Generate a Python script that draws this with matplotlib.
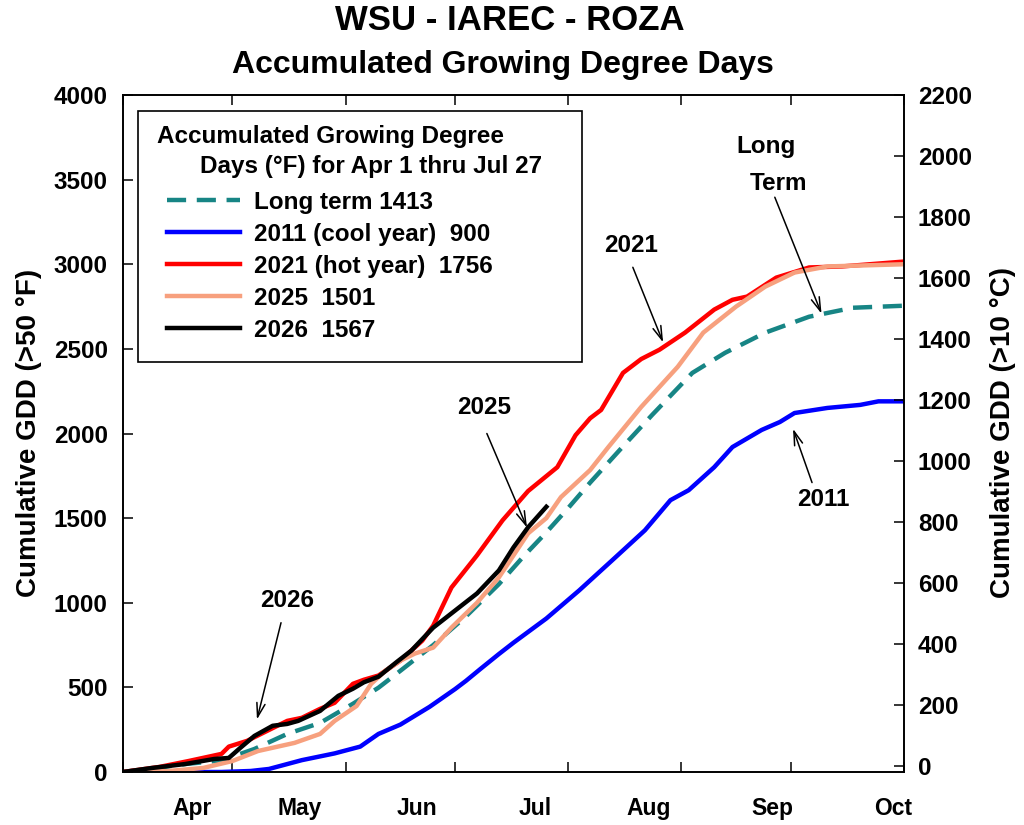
import numpy as np
import matplotlib
matplotlib.use("Agg")
import matplotlib.pyplot as plt
from matplotlib.patches import Rectangle

# x values are days since Apr 1, y values are cumulative GDD (>50 F)
lt_day = [0, 8, 17, 27, 36, 45, 54, 63, 70, 76, 85, 94, 103, 110, 116, 122, 128, 136, 145, 156, 165, 176, 188, 200, 214]
lt_gdd = [0, 20, 47, 68, 136, 225, 290, 403, 498, 598, 750, 920, 1110, 1280, 1416, 1560, 1710, 1900, 2110, 2358, 2477, 2596, 2690, 2743, 2755]

y2011_day = [0, 27, 35, 40, 49, 58, 65, 70, 76, 84, 91, 94, 98, 103, 107, 116, 125, 134, 143, 150, 155, 162, 167, 175, 180, 184, 193, 202, 207, 214]
y2011_gdd = [0, 0, 6, 18, 70, 110, 150, 225, 280, 385, 490, 539, 610, 697, 764, 907, 1073, 1250, 1428, 1606, 1665, 1801, 1920, 2021, 2068, 2121, 2151, 2169, 2190, 2190]

y2021_day = [0, 10, 18, 27, 29, 34, 45, 49, 54, 58, 63, 66, 70, 76, 82, 85, 90, 97, 104, 111, 119, 124, 128, 131, 137, 142, 147, 154, 162, 167, 171, 179, 188, 197, 214]
y2021_gdd = [0, 30, 65, 107, 150, 184, 302, 320, 373, 409, 521, 545, 570, 658, 776, 865, 1090, 1280, 1487, 1660, 1801, 1990, 2090, 2139, 2358, 2440, 2495, 2596, 2732, 2790, 2809, 2921, 2981, 2987, 3016]

y2025_day = [0, 12, 22, 30, 37, 47, 54, 58, 64, 68, 72, 76, 80, 85, 90, 97, 103, 111, 116, 120, 128, 133, 142, 152, 159, 168, 176, 184, 193, 214]
y2025_gdd = [0, 5, 24, 65, 124, 172, 225, 302, 390, 521, 600, 658, 700, 735, 853, 1000, 1150, 1410, 1500, 1624, 1784, 1920, 2157, 2394, 2596, 2750, 2868, 2951, 2987, 3000]

y2026_day = [0, 8, 17, 25, 29, 32, 36, 41, 45, 48, 54, 59, 63, 66, 70, 75, 79, 85, 91, 97, 103, 107, 111, 116]
y2026_gdd = [0, 24, 47, 77, 83, 140, 213, 273, 284, 302, 361, 450, 492, 530, 563, 650, 717, 853, 954, 1055, 1191, 1327, 1446, 1567]

legend_labels = ["Long term 1413", "2011 (cool year)  900", "2021 (hot year)  1756", "2025  1501", "2026  1567"]
month_names = ["Apr", "May", "Jun", "Jul", "Aug", "Sep", "Oct"]
month_len = [30, 31, 30, 31, 31, 30, 31]

# layout helpers (pixel -> figure fraction)
W, H = 1024, 825
def fx(px): return px / W
def fy(py): return 1 - py / H

plt.rcParams["font.family"] = ["Liberation Sans", "DejaVu Sans"]
plt.rcParams["font.weight"] = "bold"

fig = plt.figure(figsize=(W / 100, H / 100), dpi=100)
ax = fig.add_axes([fx(123), fy(772), (904 - 123) / W, (772 - 95) / H])

lw = 3.2
ax.plot(lt_day, lt_gdd, color="#178585", lw=lw, dashes=(4.3, 2.4), label=legend_labels[0])
ax.plot(y2011_day, y2011_gdd, color="#0000ff", lw=lw, label=legend_labels[1])
ax.plot(y2021_day, y2021_gdd, color="#ff0000", lw=lw, label=legend_labels[2])
ax.plot(y2025_day, y2025_gdd, color="#f7a07e", lw=lw, label=legend_labels[3])
ax.plot(y2026_day, y2026_gdd, color="#000000", lw=lw, label=legend_labels[4])

month_starts = np.concatenate([[0], np.cumsum(month_len)])
label_pos = [19, 48.5, 80.5, 113, 144, 178, 211]
ax.set_xlim(0, month_starts[-1])
ax.set_ylim(0, 4000)
ax.set_xticks(month_starts)
ax.set_xticklabels([])
ax.set_xticks(label_pos, minor=True)
ax.set_xticklabels(month_names, minor=True)
ax.tick_params(axis="x", which="major", direction="in", length=7, width=1.1, top=True)
ax.tick_params(axis="x", which="minor", length=0, pad=18, labelsize=16.5)
ax.set_yticks(np.arange(0, 4001, 500))
ax.tick_params(axis="y", direction="in", length=7, width=1.1, pad=11, labelsize=17.5)

ax2 = ax.twinx()
ax2.set_ylim(-20, 2200)
ax2.set_yticks(np.arange(0, 2201, 200))
ax2.tick_params(axis="y", direction="in", length=7, width=1.1, pad=10, labelsize=17.5)
for a in (ax, ax2):
    for s in a.spines.values():
        s.set_linewidth(1.2)

fig.text(fx(29), fy(433), "Cumulative GDD (>50 °F)", rotation=90, ha="center", va="center", fontsize=20)
fig.text(fx(1003), fy(433), "Cumulative GDD (>10 °C)", rotation=90, ha="center", va="center", fontsize=20)

fig.text(fx(510), fy(21), "WSU - IAREC - ROZA", ha="center", va="center", fontsize=25)
fig.text(fx(503), fy(65), "Accumulated Growing Degree Days", ha="center", va="center", fontsize=23)

# legend box with its own two-line heading
fig.add_artist(Rectangle((fx(138), fy(362)), 444 / W, 251 / H, transform=fig.transFigure,
                         fill=False, ec="black", lw=1.2))
fig.text(fx(157), fy(137), "Accumulated Growing Degree", ha="left", va="center", fontsize=17.5)
fig.text(fx(200), fy(167), "Days (°F) for Apr 1 thru Jul 27", ha="left", va="center", fontsize=17.5)
ax.legend(loc="upper left", bbox_to_anchor=(fx(167), fy(191)), bbox_transform=fig.transFigure,
          frameon=False, borderpad=0, borderaxespad=0, handlelength=3.0, handletextpad=0.6,
          labelspacing=0.37, prop=dict(size=17.5, weight="bold"))

# annotations (positions in days / GDD)
arrow = dict(arrowstyle="->,head_length=1.0,head_width=0.3", lw=1.1, color="black", shrinkA=0, shrinkB=0)
ax.text(44.9, 1012, "2026", ha="center", va="center", fontsize=17.5)
ax.annotate("", xy=(36.7, 310), xytext=(43.3, 882), arrowprops=arrow)
ax.text(98.9, 2154, "2025", ha="center", va="center", fontsize=17.5)
ax.annotate("", xy=(110.7, 1444), xytext=(99.7, 2000), arrowprops=arrow)
ax.text(139.2, 3112, "2021", ha="center", va="center", fontsize=17.5)
ax.annotate("", xy=(148.0, 2538), xytext=(139.7, 2982), arrowprops=arrow)
ax.text(176.2, 3698, "Long", ha="center", va="center", fontsize=17.5)
ax.text(179.5, 3479, "Term", ha="center", va="center", fontsize=17.5)
ax.annotate("", xy=(191.4, 2708), xytext=(178.6, 3396), arrowprops=arrow)
ax.text(191.8, 1609, "2011", ha="center", va="center", fontsize=17.5)
ax.annotate("", xy=(183.6, 2028), xytext=(188.8, 1710), arrowprops=arrow)

fig.savefig("out.png", dpi=100)
